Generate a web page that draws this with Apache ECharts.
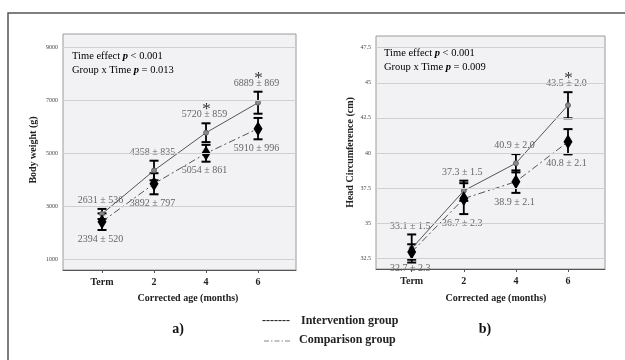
<!DOCTYPE html>
<html>
<head>
<meta charset="utf-8">
<script src="https://cdn.jsdelivr.net/npm/echarts@6/dist/echarts.min.js"></script>
<style>html,body{margin:0;padding:0;background:#fff}#c{width:625px;height:360px}</style>
</head>
<body>
<div id="c"></div>
<script>
// ---- data ----
const categories = ['Term', '2', '4', '6'];
const xPos = [0, 1, 2, 3];
const weightTicks = [1000, 3000, 5000, 7000, 9000];
const headTicks = [32.5, 35, 37.5, 40, 42.5, 45, 47.5];

const weightInt = [2700, 4340, 5766, 6898];
const weightIntErr = [190, 369, 355, 415];
const weightCmp = [2408, 3840, 4990, 5920];
const weightCmpErr = [314, 398, 318, 403];
const weightIntLabels = ['2631 ± 536', '4358 ± 835', '5720 ± 859', '6889 ± 869'];
const weightCmpLabels = ['2394 ± 520', '3892 ± 797', '5054 ± 861', '5910 ± 996'];
const weightStars = [false, false, true, true];

const headInt = [33.2, 37.31, 39.27, 43.4];
const headIntErr = [1.0, 0.72, 0.65, 0.93];
const headCmp = [32.95, 36.75, 37.96, 40.8];
const headCmpErr = [0.55, 1.1, 0.8, 0.9];
const headIntLabels = ['33.1 ± 1.5', '37.3 ± 1.5', '40.9 ± 2.0', '43.5 ± 2.0'];
const headCmpLabels = ['32.7 ± 2.3', '36.7 ± 2.3', '38.9 ± 2.1', '40.8 ± 2.1'];
const headStars = [false, false, false, true];

const seriesNames = ['Intervention group', 'Comparison group'];
const statsA = ['Time effect ', 'p', ' < 0.001', 'Group x Time ', 'p', ' = 0.013'];
const statsB = ['Time effect ', 'p', ' < 0.001', 'Group x Time ', 'p', ' = 0.009'];

// ---- helpers ----
const SERIF = '"Liberation Serif", "DejaVu Serif", serif';
function pts(vals) { return xPos.map((x, i) => [x, vals[i]]); }
function bars(vals, errs) { return xPos.map((x, i) => [x, vals[i] - errs[i], vals[i] + errs[i]]); }

function errRender(labels, stars, side) {
  return function (params, api) {
    const i = params.dataIndex;
    const x = api.value(0), lo = api.value(1), hi = api.value(2);
    const t = api.coord([x, hi]), b = api.coord([x, lo]);
    const hw = 4.5;
    const st = { stroke: '#000', lineWidth: 2 };
    const children = [
      { type: 'line', shape: { x1: t[0], y1: t[1], x2: b[0], y2: b[1] }, style: { stroke: '#000', lineWidth: 1.8 } },
      { type: 'line', shape: { x1: t[0] - hw, y1: t[1], x2: t[0] + hw, y2: t[1] }, style: st },
      { type: 'line', shape: { x1: b[0] - hw, y1: b[1], x2: b[0] + hw, y2: b[1] }, style: st }
    ];
    const ly = side === 'top' ? t[1] - 8.5 : b[1] + 9;
    children.push({ type: 'text', x: t[0] - 1.5, y: ly, style: { text: labels[i], font: '10px ' + SERIF, fill: '#666', align: 'center', verticalAlign: 'middle' } });
    if (stars[i]) {
      children.push({ type: 'text', x: t[0] + 0.5, y: ly - 5, style: { text: '*', font: '17px ' + SERIF, fill: '#333', align: 'center', verticalAlign: 'middle' } });
    }
    return { type: 'group', children };
  };
}

function gridLines(ticks, xi) {
  return {
    type: 'line', data: [], xAxisIndex: xi, yAxisIndex: xi, z: 1, silent: true,
    markLine: { silent: true, symbol: ['none', 'none'], animation: false, label: { show: false },
      lineStyle: { color: '#d0d0d0', type: 'solid', width: 1 },
      data: ticks.map(v => ({ yAxis: v })) }
  };
}

function xAx(gi, min, max) {
  return {
    type: 'value', gridIndex: gi, min, max,
    axisLine: { show: true, lineStyle: { color: '#555', width: 1 } },
    axisTick: { show: true, customValues: xPos, length: 3, lineStyle: { color: '#555' } },
    axisLabel: { customValues: xPos, formatter: v => categories[Math.round(v)], margin: 7,
      fontFamily: SERIF, fontWeight: 'bold', fontSize: 10, color: '#222' },
    splitLine: { show: false }
  };
}
function yAx(gi, min, max, ticks) {
  return {
    type: 'value', gridIndex: gi, min, max,
    axisLine: { show: false },
    axisTick: { show: true, customValues: ticks, length: 4, inside: false, lineStyle: { color: '#555' } },
    axisLabel: { customValues: ticks, formatter: v => String(v), margin: 5, fontSize: 6, color: '#444', fontFamily: SERIF },
    splitLine: { show: false }
  };
}

function lineSeries(name, vals, xi, dashed) {
  return {
    name, type: 'line', data: pts(vals), xAxisIndex: xi, yAxisIndex: xi, z: 4,
    symbol: dashed ? 'diamond' : 'circle', symbolSize: dashed ? [9, 15] : 5,
    itemStyle: dashed ? { color: '#000' } : { color: '#8a8a8a', borderColor: '#555', borderWidth: 0.8 },
    lineStyle: { color: '#555', width: 1, type: dashed ? [7, 3, 2, 3] : 'solid' },
    animation: false
  };
}
function errSeries(vals, errs, labels, stars, side, xi) {
  return {
    type: 'custom', data: bars(vals, errs), xAxisIndex: xi, yAxisIndex: xi, z: 3,
    renderItem: errRender(labels, stars, side), encode: { x: 0, y: [1, 2] }, animation: false
  };
}

function statsText(arr, x, y) {
  const rich = { a: { fontFamily: SERIF, fontSize: 10.5, color: '#555' },
                 p: { fontFamily: SERIF, fontSize: 10.5, fontWeight: 'bold', fontStyle: 'italic', color: '#111' } };
  return [
    { type: 'text', left: x, top: y, style: { text: '{a|' + arr[0] + '}{p|' + arr[1] + '}{a|' + arr[2] + '}', rich } },
    { type: 'text', left: x, top: y + 13.5, style: { text: '{a|' + arr[3] + '}{p|' + arr[4] + '}{a|' + arr[5] + '}', rich } }
  ];
}

const chart = echarts.init(document.getElementById('c'), null, { renderer: 'canvas' });
const option = {
  animation: false,
  backgroundColor: '#fff',
  grid: [
    { left: 63, top: 34, width: 233, height: 236, show: true, backgroundColor: '#f2f2f4', borderColor: '#9a9a9a', borderWidth: 1 },
    { left: 376, top: 36, width: 229, height: 233, show: true, backgroundColor: '#f2f2f4', borderColor: '#9a9a9a', borderWidth: 1 }
  ],
  xAxis: [xAx(0, -0.75, 3.73), xAx(1, -0.685, 3.71)],
  yAxis: [yAx(0, 585, 9491, weightTicks), yAx(1, 31.74, 48.33, headTicks)],
  series: [
    gridLines(weightTicks, 0),
    gridLines(headTicks, 1),
    errSeries(weightInt, weightIntErr, weightIntLabels, weightStars, 'top', 0),
    errSeries(weightCmp, weightCmpErr, weightCmpLabels, [false, false, false, false], 'bottom', 0),
    errSeries(headInt, headIntErr, headIntLabels, headStars, 'top', 1),
    errSeries(headCmp, headCmpErr, headCmpLabels, [false, false, false, false], 'bottom', 1),
    lineSeries(seriesNames[0], weightInt, 0, false),
    lineSeries(seriesNames[1], weightCmp, 0, true),
    lineSeries(seriesNames[0], headInt, 1, false),
    lineSeries(seriesNames[1], headCmp, 1, true)
  ],
  graphic: [
    { type: 'rect', shape: { x: 8, y: 13, width: 700, height: 400 }, style: { fill: 'none', stroke: '#555', lineWidth: 1.5 }, silent: true },
    ...statsText(statsA, 72, 51),
    ...statsText(statsB, 384, 48),
    { type: 'text', x: 33, y: 150, rotation: Math.PI / 2, style: { text: 'Body weight (g)', font: 'bold 10px ' + SERIF, fill: '#222', align: 'center', verticalAlign: 'middle' } },
    { type: 'text', x: 350, y: 152.5, rotation: Math.PI / 2, style: { text: 'Head Circumference (cm)', font: 'bold 10px ' + SERIF, fill: '#222', align: 'center', verticalAlign: 'middle' } },
    { type: 'text', x: 188, y: 298, style: { text: 'Corrected age (months)', font: 'bold 10px ' + SERIF, fill: '#222', align: 'center', verticalAlign: 'middle' } },
    { type: 'text', x: 496, y: 298, style: { text: 'Corrected age (months)', font: 'bold 10px ' + SERIF, fill: '#222', align: 'center', verticalAlign: 'middle' } },
    { type: 'text', x: 178, y: 329, style: { text: 'a)', font: 'bold 14px ' + SERIF, fill: '#111', align: 'center', verticalAlign: 'middle' } },
    { type: 'text', x: 485, y: 329, style: { text: 'b)', font: 'bold 14px ' + SERIF, fill: '#111', align: 'center', verticalAlign: 'middle' } },
    { type: 'text', x: 262, y: 321, style: { text: '-------', font: 'bold 12px ' + SERIF, fill: '#222', align: 'left', verticalAlign: 'middle' } },
    { type: 'line', shape: { x1: 264, y1: 341, x2: 292, y2: 341 }, style: { stroke: '#888', lineWidth: 1.2, lineDash: [5, 2, 1.5, 2] } },
    { type: 'text', x: 301, y: 321, style: { text: seriesNames[0], font: 'bold 12px ' + SERIF, fill: '#222', align: 'left', verticalAlign: 'middle' } },
    { type: 'text', x: 299, y: 340, style: { text: seriesNames[1], font: 'bold 12px ' + SERIF, fill: '#222', align: 'left', verticalAlign: 'middle' } }
  ]
};
chart.setOption(option);
</script>
</body>
</html>
